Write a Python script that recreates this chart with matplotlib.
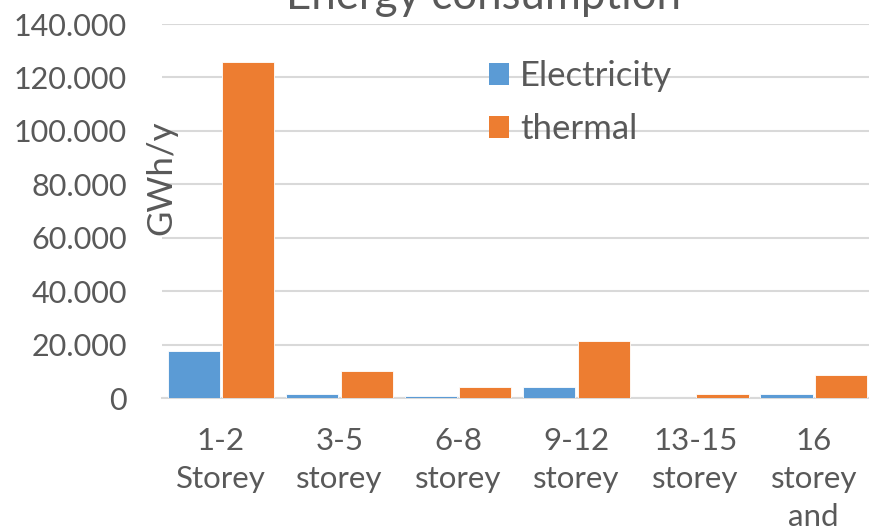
import matplotlib
matplotlib.use("Agg")
import matplotlib.pyplot as plt
from matplotlib.ticker import FuncFormatter, MultipleLocator
from matplotlib.patches import Patch

categories = ["1-2\nStorey", "3-5\nstorey", "6-8\nstorey", "9-12\nstorey",
              "13-15\nstorey", "16\nstorey\nand\nabove"]
electricity = [17700, 1500, 700, 4100, 100, 1600]   # GWh/y
thermal = [125800, 10000, 4000, 21500, 1600, 8600]  # GWh/y

BLUE = "#5B9BD5"
ORANGE = "#ED7D31"
TEXT = "#595959"
GRID = "#D9D9D9"

plt.rcParams["font.family"] = ["Lato", "DejaVu Sans"]

fig = plt.figure(figsize=(8.69, 5.29), dpi=100)
ax = fig.add_axes([0.186, 0.2476, 0.8186, 0.707])

x = list(range(len(categories)))
w = 0.44
off = 0.23
ax.bar([i - off for i in x], electricity, width=w, color=BLUE,
       edgecolor="white", linewidth=0.6, zorder=3)
ax.bar([i + off for i in x], thermal, width=w, color=ORANGE,
       edgecolor="white", linewidth=0.6, zorder=3)

ax.set_xlim(-0.5, len(categories) - 0.5)
ax.set_ylim(0, 140000)
ax.yaxis.set_major_locator(MultipleLocator(20000))
ax.yaxis.set_major_formatter(FuncFormatter(lambda v, p: f"{v:,.0f}".replace(",", ".")))
ax.grid(axis="y", color=GRID, linewidth=1.5, zorder=0)
ax.set_axisbelow(True)

for s in ["top", "right", "left"]:
    ax.spines[s].set_visible(False)
ax.spines["bottom"].set_color(GRID)
ax.spines["bottom"].set_linewidth(1.5)

ax.set_xticks(x)
ax.set_xticklabels(categories, fontsize=22.5, color=TEXT, linespacing=1.42)
ax.tick_params(axis="x", length=0, pad=21)
ax.tick_params(axis="y", length=0, pad=25, labelsize=22, labelcolor=TEXT)

ax.text(0.0, 0.59, "GWh/y", transform=ax.transAxes, rotation=90,
        fontsize=25, color=TEXT, ha="center", va="center")

fig.text(483 / 869, 1 - 9 / 529, "Energy consumption", fontsize=31.5,
         color=TEXT, ha="center", va="baseline")

handles = [Patch(facecolor=BLUE), Patch(facecolor=ORANGE)]
ax.legend(handles, ["Electricity", "thermal"], loc="upper left",
          bbox_to_anchor=(0.44, 0.94), frameon=False, fontsize=25,
          labelcolor=TEXT, handlelength=0.6, handleheight=0.6,
          handletextpad=0.3, labelspacing=0.6, borderaxespad=0)

fig.savefig("out.png", dpi=100)
